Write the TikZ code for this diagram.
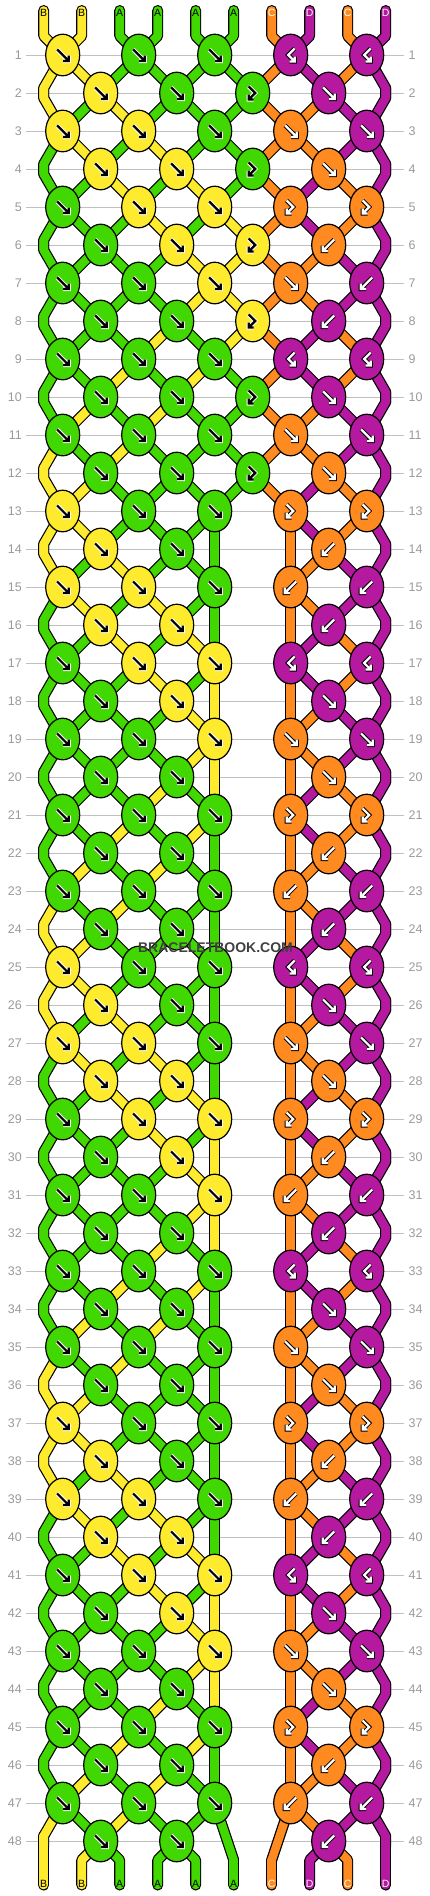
\documentclass[tikz,border=0pt]{standalone}
\usepackage{fontspec}
\setmainfont{Liberation Sans}
\usepackage{tikz}

\definecolor{cY}{HTML}{FFEB2D}
\definecolor{cG}{HTML}{40D800}
\definecolor{cO}{HTML}{FF8A20}
\definecolor{cP}{HTML}{B519A0}
\definecolor{rowgray}{HTML}{C0C0C0}
\definecolor{numgray}{HTML}{999999}

% thread colours before each row (left part every 12 rows, right part every 8)
\newcommand\stateL[1]{\ifcase#1 Y,Y,G,G,G,G\or Y,Y,G,G,G,G\or Y,G,Y,G,G,G\or G,Y,G,Y,G,G\or G,G,Y,G,Y,G\or G,G,G,Y,G,Y\or G,G,G,G,Y,Y\or G,G,G,G,Y,Y\or G,G,G,Y,G,Y\or G,G,Y,G,Y,G\or G,Y,G,Y,G,G\or Y,G,Y,G,G,G\fi}
\newcommand\stateR[1]{\ifcase#1 O,P,O,P\or O,P,O,P\or O,O,P,P\or O,O,P,P\or O,P,O,P\or O,P,O,P\or O,O,P,P\or O,O,P,P\fi}
% right part knots: column/colour/type
\newcommand\knotsR[1]{\ifcase#1 7/P/bf,9/P/bf\or 8/P/f\or 7/O/f,9/P/f\or 8/O/f\or 7/O/fb,9/O/fb\or 8/O/b\or 7/O/b,9/P/b\or 8/P/b\fi}
\def\typef{f}\def\typeb{b}\def\typefb{fb}\def\typebf{bf}

\newcommand\edgeloc{\let\lx\xs\pgfmathsetmacro\lya{\ly-5}\pgfmathsetmacro\lyb{\ly+5}}
\newcommand\passloc[2]{\ifnum#1=48 \let\lx\xs\pgfmathsetmacro\lya{\ly+19}\let\lyb\lya
  \else\pgfmathsetmacro\lx{\xs+(isodd(#2)?19:-19)}\fi}
\newcommand\getloc[2]{%
  \pgfmathsetmacro\xs{43.7+38*(#2-1)}%
  \pgfmathsetmacro\ly{55+38*(#1-1)}%
  \ifnum#1=0 \let\lx\xs\def\lya{10.5}\def\lyb{36}%
  \else\ifnum#1=49 \let\lx\xs\def\lya{1860}\def\lyb{1885}%
  \else
    \pgfmathsetmacro\lx{\xs+(iseven(#1+#2)?19:-19)}%
    \let\lya\ly\let\lyb\ly
    \ifodd#1 \else
      \ifnum#2=1 \edgeloc\fi
      \ifnum#2=10 \edgeloc\fi
      \ifnum#1>12 \ifnum#2>5 \ifnum#2<8 \passloc{#1}{#2}\fi\fi\fi
    \fi
  \fi\fi}

\newcommand\drawthreads[2]{%
  \foreach \r in {0,...,48} {
    \pgfmathtruncatemacro\rn{\r+1}
    \pgfmathtruncatemacro\kl{mod(\r,12)}
    \pgfmathtruncatemacro\kr{mod(\r,8)}
    \edef\cols{\stateL{\kl},\stateR{\kr}}
    \foreach \c [count=\p] in \cols {
      \getloc{\r}{\p}
      \coordinate (ta) at (\lx,\lya);
      \coordinate (tb) at (\lx,\lyb);
      \getloc{\rn}{\p}
      \coordinate (tc) at (\lx,\lya);
      \coordinate (td) at (\lx,\lyb);
      \draw[thread, line width=#1, color=#2] (ta) -- (tb) -- (tc) -- (td);
    }
  }}

\newcommand\knotat[6]{%
  \filldraw[knot, fill=c#3] (#1,#2) ellipse [x radius=17, y radius=20.8];
  \edef\ktype{#4}%
  \foreach \w/\ac in {4.2pt/#6, 2.2pt/#5} {
    \begin{scope}[shift={(#1,#2)}, line width=\w, color=\ac]
      \ifx\ktype\typef \draw (-5.5,-5.5) -- (6,6) (0.5,6) -- (6,6) -- (6,0.5);\fi
      \ifx\ktype\typeb \draw (5.5,-5.5) -- (-6,6) (-0.5,6) -- (-6,6) -- (-6,0.5);\fi
      \ifx\ktype\typefb \draw (-4,-6.5) -- (2.5,0) -- (-4,6.5) (1,6.5) -- (-4,6.5) -- (-4,1.5);\fi
      \ifx\ktype\typebf \draw (4,-6.5) -- (-2.5,0) -- (4,6.5) (-1,6.5) -- (4,6.5) -- (4,1.5);\fi
    \end{scope}}}

\begin{document}
\begin{tikzpicture}[x=1pt, y=-1pt,
    thread/.style={line cap=round, line join=round},
    knot/.style={draw=black, line width=1.2pt},
    rowline/.style={draw=rowgray, line width=1pt},
    rownum/.style={text=numgray, inner sep=0pt, font=\fontsize{12.5}{13}\selectfont},
    endlabel/.style={inner sep=0pt, font=\fontsize{10.5}{11}\selectfont}]
  \useasboundingbox (0,0) rectangle (430,1896);
  \foreach \r in {1,...,48} {
    \pgfmathsetmacro\yr{55+38*(\r-1)}
    \draw[rowline] (26,\yr) -- (404,\yr);
    \node[rownum, anchor=east] (numl\r) at (22,\yr) {\r};
    \node[rownum, anchor=west] (numr\r) at (408.5,\yr) {\r};
  }
  \drawthreads{11pt}{black}
  \drawthreads{8.6pt}{c\c}
  \foreach \r in {1,...,48} {
    \pgfmathtruncatemacro\kl{mod(\r-1,12)}
    \pgfmathtruncatemacro\kr{mod(\r-1,8)}
    \pgfmathsetmacro\yr{55+38*(\r-1)}
    \edef\cols{\stateL{\kl}}
    \foreach \c [count=\p] in \cols {
      \pgfmathsetmacro\kx{62.7+38*(\p-1)}
      \ifodd\numexpr\p+\r\relax\else
        \ifnum\p<6 \knotat{\kx}{\yr}{\c}{f}{black}{white}\fi
        \ifnum\p=6 \ifnum\r<13 \knotat{\kx}{\yr}{\c}{fb}{black}{white}\fi\fi
      \fi
    }
    \edef\knl{\ifnum\r=7 7/O/f,9/P/b\else\knotsR{\kr}\fi}
    \foreach \kc/\cc/\kt in \knl {
      \pgfmathsetmacro\kx{62.7+38*(\kc-1)}
      \knotat{\kx}{\yr}{\cc}{\kt}{white}{black}
    }
  }
  \foreach \lab/\tc [count=\p] in {B/black,B/black,A/black,A/black,A/black,A/black,C/white,D/white,C/white,D/white} {
    \pgfmathsetmacro\xs{43.7+38*(\p-1)}
    \node[endlabel, text=\tc] (top\p) at (\xs,12.8) {\lab};
    \node[endlabel, text=\tc] (bot\p) at (\xs,1883.5) {\lab};
  }
  \node[font=\bfseries\fontsize{14}{15}\selectfont, text=black!75, inner sep=0pt] (mark) at (215.5,947.5) {BRACELETBOOK.COM};
\end{tikzpicture}
\end{document}
